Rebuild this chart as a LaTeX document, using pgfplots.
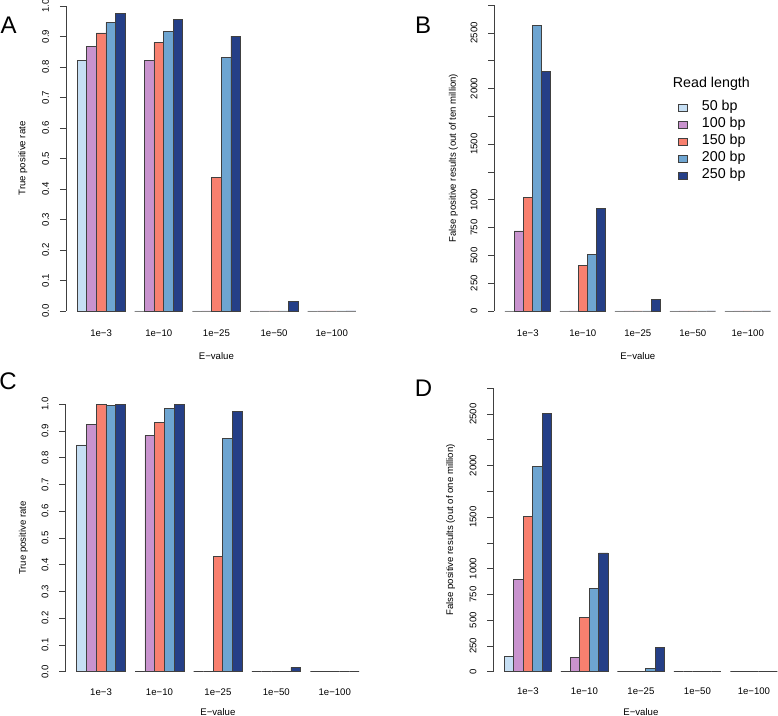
\documentclass[border=0pt]{standalone}
\usepackage{fontspec}
\setmainfont{Liberation Sans}
\usepackage{pgfplots}
\pgfplotsset{compat=1.18}
\usepackage{pgfplotstable}

\definecolor{c50}{HTML}{C6DFF4}
\definecolor{c100}{HTML}{C993CE}
\definecolor{c150}{HTML}{F8806F}
\definecolor{c200}{HTML}{6EA5D1}
\definecolor{c250}{HTML}{253F87}

% panel A: true positive rate (ten million)
\pgfplotstableread{
g v50 v100 v150 v200 v250
0 0.821 0.867 0.912 0.946 0.977
1 0 0.821 0.881 0.918 0.956
2 0 0 0.438 0.831 0.901
3 0 0 0 0 0.032
4 0 0 0 0 0
}\tblA
% panel B: false positives (out of ten million)
\pgfplotstableread{
g v50 v100 v150 v200 v250
0 0 721 1024 2566 2153
1 0 0 410 512 922
2 0 0 0 0 102
3 0 0 0 0 0
4 0 0 0 0 0
}\tblB
% panel C: true positive rate
\pgfplotstableread{
g v50 v100 v150 v200 v250
0 0.848 0.925 1.0 0.996 1.0
1 0 0.883 0.931 0.985 1.0
2 0 0 0.431 0.874 0.974
3 0 0 0 0 0.016
4 0 0 0 0 0
}\tblC
% panel D: false positives (out of one million)
\pgfplotstableread{
g v50 v100 v150 v200 v250
0 148 894 1506 1994 2506
1 0 139 529 810 1152
2 0 0 0 32 239
3 0 0 0 0 0
4 0 0 0 0 0
}\tblD

\newcommand{\smallf}{\fontsize{7.2}{8.5}\selectfont}

\pgfplotsset{
  rbar/.style={
    scale only axis,
    anchor=south west,
    axis lines*=left,
    x axis line style={draw=none},
    y axis line style={draw=black!75, line width=0.5pt},
    major x tick style={draw=none},
    major y tick style={draw=black!75, line width=0.5pt},
    tick align=outside,
    major tick length=4.5pt,
    xmin=-0.16, xmax=31.16,
    ybar, bar shift=0pt, bar width=1,
    xtick={3.5,9.5,15.5,21.5,27.5},
    xticklabels={1e−3,1e−10,1e−25,1e−50,1e−100},
    tick label style={font=\smallf},
    yticklabel style={rotate=90, anchor=base, inner sep=0pt, yshift=8.2pt},
    xticklabel style={anchor=center, inner sep=0pt},
    label style={font=\smallf},
    xlabel={E−value},
    clip=false,
    legend image code/.code={\draw[#1] (0pt,-2.6pt) rectangle (6.3pt,2.6pt);},
  },
  tpr/.style={
    ymin=0, ymax=1,
    ytick={0,0.1,0.2,0.3,0.4,0.5,0.6,0.7,0.8,0.9,1},
    yticklabels={0.0,0.1,0.2,0.3,0.4,0.5,0.6,0.7,0.8,0.9,1.0},
    ylabel={True positive rate},
  },
  fpr/.style={
    ymin=0, ymax=2750,
    ytick={0,250,500,750,1000,1250,1500,1750,2000,2250,2500,2750},
    yticklabels={0,250,500,750,1000,,1500,,2000,,2500,},
  },
  s50/.style={fill=c50, draw=black!75, line width=0.45pt},
  s100/.style={fill=c100, draw=black!75, line width=0.45pt},
  s150/.style={fill=c150, draw=black!75, line width=0.45pt},
  s200/.style={fill=c200, draw=black!75, line width=0.45pt},
  s250/.style={fill=c250, draw=black!75, line width=0.45pt},
}

\newcommand{\allbars}[1]{%
  \addplot[s50]  table[x expr=6*\thisrow{g}+1.5, y=v50]  {#1};
  \addplot[s100] table[x expr=6*\thisrow{g}+2.5, y=v100] {#1};
  \addplot[s150] table[x expr=6*\thisrow{g}+3.5, y=v150] {#1};
  \addplot[s200] table[x expr=6*\thisrow{g}+4.5, y=v200] {#1};
  \addplot[s250] table[x expr=6*\thisrow{g}+5.5, y=v250] {#1};
}

\begin{document}
\begin{tikzpicture}
\path[use as bounding box] (0pt,0pt) rectangle (583.5pt,-537pt);

% Panel A
\begin{axis}[rbar, tpr,
  at={(49.43pt,-233.25pt)}, width=225.75pt, height=228.75pt,
  xticklabel style={yshift=-12pt},
  xlabel style={at={(axis description cs:0.5,0)}, anchor=center, yshift=-33.75pt},
  ylabel style={at={(axis description cs:0,0.5)}, anchor=center, yshift=32.25pt},
]
\allbars{\tblA}
\end{axis}

% Panel B
\begin{axis}[rbar, fpr,
  at={(370.7pt,-233.25pt)}, width=215.25pt, height=229.35pt,
  ylabel={False positive results (out of ten million)},
  xticklabel style={yshift=-11.8pt},
  xlabel style={at={(axis description cs:0.5,0)}, anchor=center, yshift=-33.75pt},
  ylabel style={at={(axis description cs:0,0.5)}, anchor=center, yshift=30.75pt},
  legend style={at={(rel axis cs:0.640,0.693)}, anchor=north west, draw=none, fill=none,
    font=\fontsize{10.7}{12}\selectfont, inner sep=0pt, row sep=0pt, column sep=0pt,
    nodes={inner sep=0pt, text height=8.5pt, text depth=4.25pt},
    /tikz/every odd column/.style={column sep=11pt}},
  legend cell align=left,
]
\allbars{\tblB}
\legend{50 bp,100 bp,150 bp,200 bp,250 bp}
\node[anchor=base west, inner sep=0pt, font=\fontsize{10.7}{12}\selectfont] at (rel axis cs:0.6216,0.731) {Read length};
\end{axis}

% Panel C
\begin{axis}[rbar, tpr,
  at={(49.05pt,-503.78pt)}, width=228.75pt, height=200.55pt,
  xticklabel style={yshift=-10.5pt},
  xlabel style={at={(axis description cs:0.5,0)}, anchor=center, yshift=-30pt},
  ylabel style={at={(axis description cs:0,0.5)}, anchor=center, yshift=31.5pt},
]
\allbars{\tblC}
\end{axis}

% Panel D
\begin{axis}[rbar, fpr,
  at={(370.05pt,-503.78pt)}, width=221.25pt, height=212.55pt,
  ylabel={False positive results (out of one million)},
  xticklabel style={yshift=-10pt},
  xlabel style={at={(axis description cs:0.5,0)}, anchor=center, yshift=-30pt},
  ylabel style={at={(axis description cs:0,0.5)}, anchor=center, yshift=32pt},
]
\allbars{\tblD}
\end{axis}

% panel letters
\node[font=\fontsize{18}{20}\selectfont, inner sep=0pt] at (6.4pt,-18.75pt) {A};
\node[font=\fontsize{18}{20}\selectfont, inner sep=0pt] at (317.3pt,-18.75pt) {B};
\node[font=\fontsize{18}{20}\selectfont, inner sep=0pt] at (6pt,-286.1pt) {C};
\node[font=\fontsize{18}{20}\selectfont, inner sep=0pt] at (317.6pt,-291.4pt) {D};
\end{tikzpicture}
\end{document}
